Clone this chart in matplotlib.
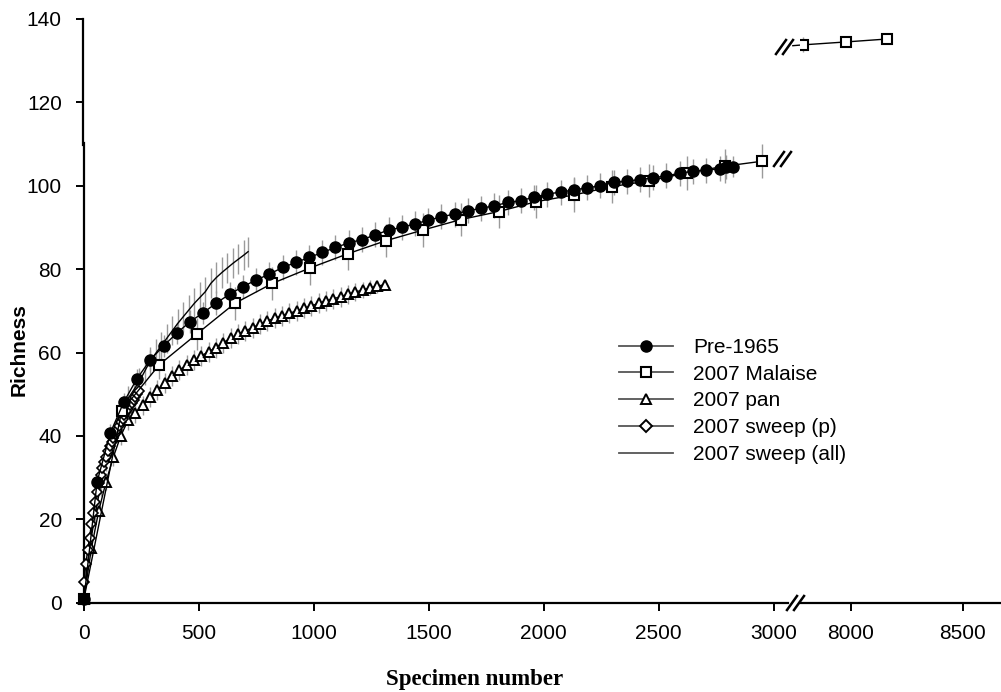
import matplotlib.pyplot as plt
from matplotlib.lines import Line2D
from matplotlib.transforms import ScaledTranslation

plt.rcParams['font.family'] = ['Liberation Sans', 'DejaVu Sans']

# Pre-1965 (filled circles)
pre_x = [0, 57, 115, 173, 230, 288, 346, 403, 461, 518, 576, 634, 691, 749, 806, 864, 922,
         979, 1037, 1094, 1152, 1210, 1267, 1325, 1382, 1440, 1498, 1555, 1613, 1670, 1728,
         1786, 1843, 1901, 1958, 2016, 2074, 2131, 2189, 2246, 2304, 2362, 2419, 2477, 2534,
         2592, 2650, 2707, 2765, 2794, 2823]
pre_y = [1, 29, 40.8, 48.1, 53.7, 58.2, 61.6, 64.6, 67.4, 69.5, 71.9, 74.0, 75.8, 77.4, 78.8,
         80.4, 81.6, 82.8, 84.0, 85.2, 86.3, 87.1, 88.2, 89.4, 90.0, 90.9, 91.7, 92.6, 93.2,
         94.0, 94.6, 95.2, 96.0, 96.4, 97.3, 98.0, 98.5, 99.0, 99.5, 100.0, 100.8, 101.1,
         101.5, 101.9, 102.4, 103.0, 103.5, 103.7, 104.1, 104.5, 104.6]
pre_err = [0, 1.5, 2.0, 2.2, 2.4, 2.5, 2.6, 2.6, 2.7, 2.7, 2.8, 2.8, 2.8, 2.9, 2.9, 2.9, 2.9,
           3.0, 3.0, 3.0, 3.0, 3.0, 3.0, 3.0, 3.0, 3.0, 3.0, 3.0, 3.0, 3.0, 3.0, 3.0, 3.0,
           3.0, 3.0, 3.0, 3.0, 3.0, 3.0, 3.0, 3.0, 3.0, 3.0, 3.0, 3.0, 3.0, 3.0, 3.0, 3.0,
           2.8, 2.5]

# 2007 Malaise (open squares), main part and the part after the axis break
mal_x = [0, 164, 328, 492, 656, 820, 984, 1148, 1312, 1476, 1640, 1804, 1968, 2132, 2296,
         2460, 2624, 2788, 2952]
mal_y = [1, 46, 57.1, 64.5, 71.8, 76.6, 80.3, 83.7, 86.8, 89.4, 91.9, 93.8, 96.2, 97.8,
         99.8, 101.2, 103.1, 104.7, 105.9]
mal_err = [0, 3.0, 3.5, 3.8, 4.0, 4.0, 4.0, 4.0, 4.0, 4.0, 4.0, 4.0, 4.0, 4.0, 4.0, 4.0,
           4.0, 4.0, 4.0]
mal2_x = [7786, 7978, 8161]
mal2_y = [133.8, 134.5, 135.2]
mal2_err = [1.8, 0, 0]

# 2007 pan (open triangles)
pan_x = [0, 32, 64, 96, 128, 160, 192, 223, 255, 287, 319, 351, 383, 415, 447, 479, 510, 542,
         574, 606, 638, 670, 702, 734, 766, 798, 829, 861, 893, 925, 957, 989, 1021, 1053,
         1085, 1117, 1149, 1180, 1212, 1244, 1276, 1308]
pan_y = [1, 13, 22, 29, 35, 40, 43.8, 45.5, 47.3, 49.3, 51.0, 52.8, 54.3, 55.8, 57.0, 58.1,
         59.2, 60.2, 61.2, 62.4, 63.4, 64.4, 65.2, 66.0, 66.8, 67.6, 68.2, 68.8, 69.4, 70.0,
         70.6, 71.2, 71.8, 72.4, 72.9, 73.4, 74.0, 74.5, 75.0, 75.5, 75.9, 76.3]
pan_err = [0, 1.5, 1.8, 2.0, 2.2, 2.2, 2.3, 2.3, 2.3, 2.4, 2.4, 2.4, 2.4, 2.4, 2.4, 2.4, 2.4,
           2.4, 2.4, 2.4, 2.4, 2.4, 2.4, 2.4, 2.4, 2.4, 2.4, 2.4, 2.4, 2.4, 2.4, 2.4, 2.4,
           2.4, 2.4, 2.4, 2.3, 2.2, 2.0, 1.8, 1.5, 1.0]

# 2007 sweep (p) (open diamonds)
swp_x = [0, 8, 16, 24, 32, 40, 48, 56, 64, 72, 80, 88, 96, 104, 112, 120, 128, 136, 144, 152,
         160, 168, 176, 184, 192, 200, 208, 216, 224, 232, 240]
swp_y = [5, 9.3, 12.6, 15.6, 18.8, 21.6, 24.2, 26.6, 28.8, 30.6, 32.2, 33.7, 35.0, 36.3, 37.5,
         38.6, 39.6, 40.5, 41.5, 42.4, 43.3, 44.1, 44.9, 45.7, 46.5, 47.3, 48.0, 48.7, 49.4,
         50.1, 50.8]

# 2007 sweep (all) (line only)
swa_x = [0, 24, 48, 72, 96, 120, 144, 168, 192, 216, 240, 264, 288, 312, 336, 360, 384, 408,
         432, 456, 480, 504, 528, 552, 576, 600, 624, 648, 672, 696, 714]
swa_y = [3, 13, 21, 28, 34, 39.5, 43.5, 46.5, 49, 51, 53, 55.5, 58, 59.8, 61.6, 63.4, 65.2,
         67.0, 68.6, 70.2, 71.8, 73.2, 74.6, 76.6, 78.0, 79.2, 80.3, 81.4, 82.4, 83.4, 84.2]
swa_err = [0, 1.5, 2.0, 2.3, 2.5, 2.7, 2.8, 3.0, 3.0, 3.1, 3.2, 3.3, 3.3, 3.4, 3.4, 3.5, 3.5,
           3.5, 3.6, 3.6, 3.6, 3.6, 3.6, 3.6, 3.6, 3.6, 3.6, 3.6, 3.6, 3.6, 3.6]

labels = ['Pre-1965', '2007 Malaise', '2007 pan', '2007 sweep (p)', '2007 sweep (all)']

W, H = 1001, 692
fig = plt.figure(figsize=(W / 100, H / 100), dpi=100)
bottom = (H - 602.7) / H
height = (602.7 - 19) / H
ax = fig.add_axes([84 / W, bottom, (788 - 84) / W, height])
ax2 = fig.add_axes([800 / W, bottom, 200 / W, height])

ebar = dict(fmt='none', ecolor='#9a9a9a', elinewidth=1.0, capsize=0, zorder=1, clip_on=False)
ax.errorbar(swa_x, swa_y, yerr=swa_err, **ebar)
ax.errorbar(pan_x, pan_y, yerr=pan_err, **ebar)
ax.errorbar(mal_x, mal_y, yerr=mal_err, **ebar)
ax.errorbar(pre_x, pre_y, yerr=pre_err, **ebar)
ax2.errorbar(mal2_x, mal2_y, yerr=mal2_err, **ebar)

ax.plot(swa_x, swa_y, color='black', lw=1.0, zorder=2, clip_on=False)
ax.plot(pan_x, pan_y, color='black', lw=1.0, marker='^', ms=7.5, mfc='white', mec='black',
        mew=1.4, zorder=3, clip_on=False)
ax.plot(swp_x, swp_y, color='black', lw=1.0, marker='D', ms=5.5, mfc='white', mec='black',
        mew=1.2, zorder=4, clip_on=False)
ax.plot(mal_x, mal_y, color='black', lw=1.0, marker='s', ms=7.5, mfc='white', mec='black',
        mew=1.5, zorder=5, clip_on=False)
ax.plot(pre_x, pre_y, color='black', lw=1.0, marker='o', ms=8, mfc='black', mec='black',
        zorder=6, clip_on=False)
ax2.plot(mal2_x, mal2_y, color='black', lw=1.0, marker='s', ms=7.5, mfc='white', mec='black',
         mew=1.5, zorder=5)
# short stub of the Malaise line running out of the break marks
ax2.plot([7740, mal2_x[0]], [mal2_y[0] - 0.2, mal2_y[0]], color='black', lw=1.0, zorder=4,
         clip_on=False)

ax.set_xlim(0, 3063)
ax.set_ylim(0, 140)
ax2.set_xlim(7772, 8667)
ax2.set_ylim(0, 140)

for a in (ax, ax2):
    a.spines['top'].set_visible(False)
    a.spines['right'].set_visible(False)
    a.spines['bottom'].set_linewidth(1.6)
    a.tick_params(axis='both', direction='out', length=6, width=1.4, labelsize=15, pad=9,
                  colors='black')
ax2.spines['left'].set_visible(False)
ax2.set_yticks([])
ax2.set_xticks([8000, 8500])
ax.set_xticks([0, 500, 1000, 1500, 2000, 2500, 3000])
ax.set_yticks(range(0, 141, 20))
ax.spines['left'].set_linewidth(1.6)
ax.spines['left'].set_bounds(0, 110.3)
ax.tick_params(axis='y', pad=10)
# upper piece of the broken y axis, shifted by one pixel
up = Line2D([0, 0], [109.8, 140], color='black', lw=1.6,
            transform=ax.get_yaxis_transform() + ScaledTranslation(-0.01, 0, fig.dpi_scale_trans),
            clip_on=False)
ax.add_line(up)

# axis break marks (pixel positions of the reference)
def slash_pair(x, y):
    for dx in (0, 7):
        fig.add_artist(Line2D([(x + dx - 5) / W, (x + dx + 5) / W],
                              [1 - (y + 7) / H, 1 - (y - 7) / H],
                              color='black', lw=1.8))

slash_pair(792, 603)
slash_pair(781, 47)
slash_pair(779, 159)

fig.text(19 / W, 1 - 350 / H, 'Richness', rotation=90, ha='center', va='center',
         fontsize=15, fontweight='bold')
fig.text(475 / W, 1 - 679 / H, 'Specimen number', ha='center', va='center',
         fontsize=16.5, fontweight='bold', family=['Liberation Serif', 'DejaVu Serif'])

handles = [
    Line2D([], [], color='#555555', lw=1.3, marker='o', ms=8, mfc='black', mec='black'),
    Line2D([], [], color='#555555', lw=1.3, marker='s', ms=7.5, mfc='white', mec='black', mew=1.5),
    Line2D([], [], color='#555555', lw=1.3, marker='^', ms=7.5, mfc='white', mec='black', mew=1.4),
    Line2D([], [], color='#555555', lw=1.3, marker='D', ms=6.5, mfc='white', mec='black', mew=1.4),
    Line2D([], [], color='#555555', lw=1.3),
]
fig.legend(handles, labels, loc='upper left', bbox_to_anchor=(619 / W, 1 - 338 / H),
           frameon=False, fontsize=15, handlelength=2.6, handletextpad=0.95,
           labelspacing=0.37, borderpad=0, borderaxespad=0)

fig.savefig('out.png', dpi=100)
